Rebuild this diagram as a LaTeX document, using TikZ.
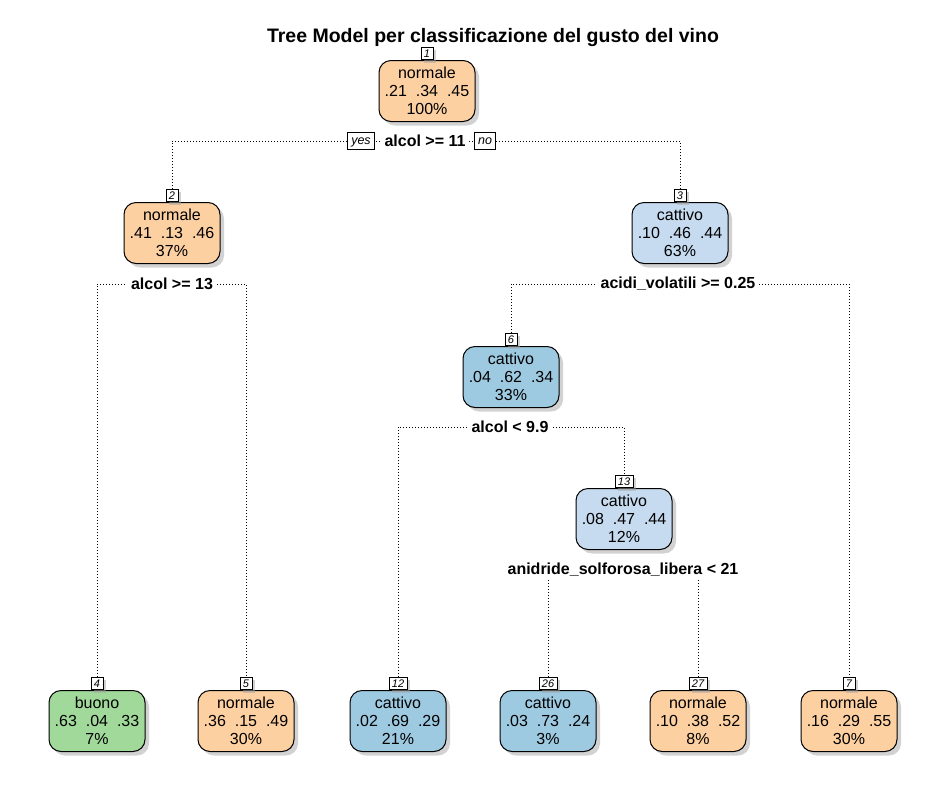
\documentclass[tikz,border=0pt]{standalone}
\usepackage{fontspec}
\setmainfont{Liberation Sans}
\usetikzlibrary{shadows,backgrounds}
\definecolor{orangeF}{HTML}{FDD0A2}
\definecolor{blueL}{HTML}{C6DBEF}
\definecolor{blueD}{HTML}{9ECAE1}
\definecolor{greenF}{HTML}{A1D99B}
\begin{document}
\begin{tikzpicture}[x=1pt,y=-1pt,
 tnode/.style={draw=black, line width=1pt, rounded corners=12pt, minimum width=96pt, minimum height=61pt, align=center, font=\fontsize{16}{18}\selectfont, inner sep=0pt, drop shadow={shadow xshift=4pt, shadow yshift=-4pt, fill=black!35, draw=none}},
 numbox/.style={draw, fill=white, line width=0.7pt, font=\fontsize{11}{11}\selectfont\itshape, inner xsep=3pt, inner ysep=2pt, text height=8pt, text depth=0.5pt, anchor=south, drop shadow={shadow xshift=3pt, shadow yshift=-3pt, fill=black!35, draw=none}},
 split/.style={fill=white, font=\fontsize{16}{16}\selectfont\bfseries, inner xsep=4pt, inner ysep=2pt},
 yn/.style={draw, fill=white, line width=0.7pt, font=\fontsize{12.5}{12.5}\selectfont\itshape, inner xsep=3.5pt, inner ysep=2.5pt, text height=9pt, text depth=2.5pt},
 conn/.style={line width=0.8pt, dash pattern=on 0.8pt off 2.2pt}
]
\useasboundingbox (0,0) rectangle (946,796);

\node[font=\fontsize{19.5}{19.5}\selectfont\bfseries] (title) at (493,37) {Tree Model per classificazione del gusto del vino};

% internal nodes
\node[tnode, fill=orangeF] (n1) at (427,91) {normale\\.21\ \ .34\ \ .45\\100\%};
\node[numbox] (b1) at (n1.north) {1};
\node[tnode, fill=orangeF] (n2) at (172,233) {normale\\.41\ \ .13\ \ .46\\37\%};
\node[numbox] (b2) at (n2.north) {2};
\node[tnode, fill=blueL] (n3) at (680,233) {cattivo\\.10\ \ .46\ \ .44\\63\%};
\node[numbox] (b3) at (n3.north) {3};
\node[tnode, fill=blueD] (n6) at (511,377) {cattivo\\.04\ \ .62\ \ .34\\33\%};
\node[numbox] (b6) at (n6.north) {6};
\node[tnode, fill=blueL] (n13) at (624,519) {cattivo\\.08\ \ .47\ \ .44\\12\%};
\node[numbox] (b13) at (n13.north) {13};

% leaves
\node[tnode, fill=greenF] (n4) at (97,721) {buono\\.63\ \ .04\ \ .33\\7\%};
\node[numbox] (b4) at (n4.north) {4};
\node[tnode, fill=orangeF] (n5) at (246,721) {normale\\.36\ \ .15\ \ .49\\30\%};
\node[numbox] (b5) at (n5.north) {5};
\node[tnode, fill=blueD] (n12) at (398,721) {cattivo\\.02\ \ .69\ \ .29\\21\%};
\node[numbox] (b12) at (n12.north) {12};
\node[tnode, fill=blueD] (n26) at (548,721) {cattivo\\.03\ \ .73\ \ .24\\3\%};
\node[numbox] (b26) at (n26.north) {26};
\node[tnode, fill=orangeF] (n27) at (698,721) {normale\\.10\ \ .38\ \ .52\\8\%};
\node[numbox] (b27) at (n27.north) {27};
\node[tnode, fill=orangeF] (n7) at (849,721) {normale\\.16\ \ .29\ \ .55\\30\%};
\node[numbox] (b7) at (n7.north) {7};

% split labels
\node[split] (s1) at (425,141) {alcol >= 11};
\node[yn] (yes) at (361,141) {yes};
\node[yn] (no) at (485,141) {no};
\node[split] (s2) at (172,284) {alcol >= 13};
\node[split] (s3) at (678,284) {acidi\_volatili >= 0.25};
\node[split] (s6) at (510,427) {alcol < 9.9};
\node[split] (s13) at (623,570) {anidride\_solforosa\_libera < 21};

\begin{pgfonlayer}{background}
\draw[conn] (b2.north) |- (s1.center) -| (b3.north);
\draw[conn] (b4.north) |- (s2.center) -| (b5.north);
\draw[conn] (b6.north) |- (s3.center) -| (b7.north);
\draw[conn] (b12.north) |- (s6.center) -| (b13.north);
\draw[conn] (b26.north) |- (s13.center) -| (b27.north);
\end{pgfonlayer}
\end{tikzpicture}
\end{document}
